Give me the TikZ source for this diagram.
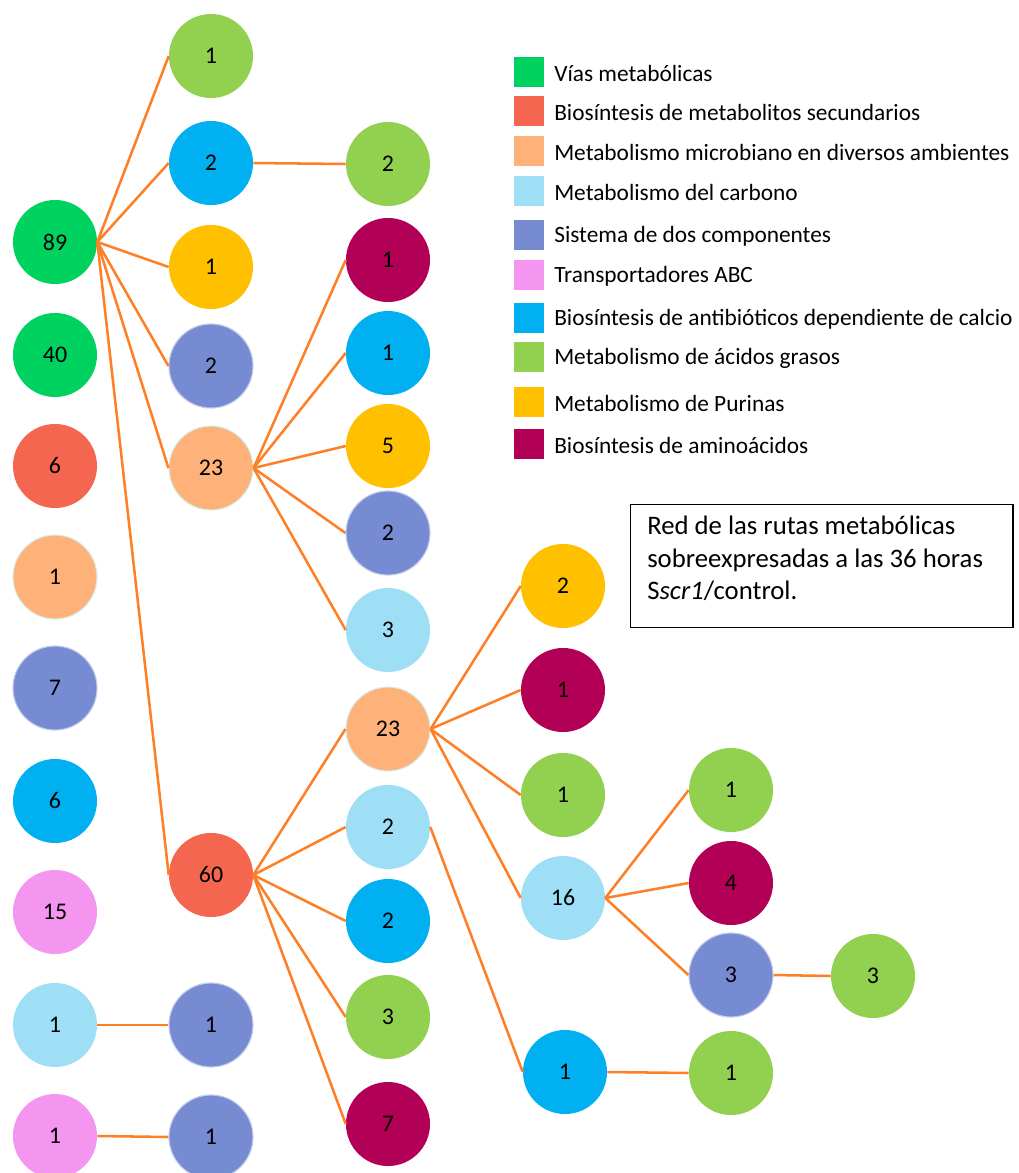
\documentclass[tikz,border=0pt]{standalone}
\usepackage{fontspec}
\setmainfont{Carlito}
\definecolor{vias}{RGB}{0,210,96}
\definecolor{secun}{RGB}{244,102,80}
\definecolor{micro}{RGB}{255,177,122}
\definecolor{carbono}{RGB}{158,223,246}
\definecolor{doscomp}{RGB}{118,139,210}
\definecolor{abc}{RGB}{244,150,240}
\definecolor{antib}{RGB}{0,176,240}
\definecolor{grasos}{RGB}{146,208,80}
\definecolor{purinas}{RGB}{255,192,0}
\definecolor{amino}{RGB}{178,0,86}
\definecolor{linea}{RGB}{255,127,39}
\definecolor{borde}{RGB}{214,238,232}

\begin{document}
\begin{tikzpicture}[x=0.025cm,y=-0.025cm,
  nodo/.style={circle,minimum size=2.1cm,inner sep=0pt,font=\fontsize{17}{20}\selectfont},
  dc/.style={nodo,fill=doscomp,draw=doscomp!45!white,line width=0.8pt},
  mi/.style={nodo,fill=micro,draw=borde,line width=0.8pt},
  arista/.style={draw=linea,line width=1.8pt},
  cuadro/.style={minimum size=0.75cm,inner sep=0pt}]
\useasboundingbox (0,0) rectangle (1019,1173);
% primera columna
\node[nodo,fill=vias](a1) at (55,242){89};
\node[nodo,fill=vias](a2) at (55,355){40};
\node[nodo,fill=secun](a3) at (55,466){6};
\node[mi](a4) at (55,577){1};
\node[dc](a5) at (55,688){7};
\node[nodo,fill=antib](a6) at (55,801){6};
\node[nodo,fill=abc](a7) at (55,912){15};
\node[nodo,fill=carbono](a8) at (55,1025){1};
\node[nodo,fill=abc](a9) at (55,1136){1};
% segunda columna
\node[nodo,fill=grasos](b1) at (211,56){1};
\node[nodo,fill=antib](b2) at (211,163){2};
\node[nodo,fill=purinas](b3) at (211,267){1};
\node[dc](b4) at (211,366){2};
\node[mi](b5) at (211,468){23};
\node[nodo,fill=secun](b6) at (211,875){60};
\node[dc](b7) at (211,1025){1};
\node[dc](b8) at (211,1137){1};
% tercera columna
\node[nodo,fill=grasos](c1) at (388,164){2};
\node[nodo,fill=amino](c2) at (388,260){1};
\node[nodo,fill=antib](c3) at (388,353){1};
\node[nodo,fill=purinas](c4) at (388,446){5};
\node[dc](c5) at (388,533){2};
\node[nodo,fill=carbono](c6) at (388,630){3};
\node[mi](c7) at (388,729){23};
\node[nodo,fill=carbono](c8) at (388,827){2};
\node[nodo,fill=antib](c9) at (388,921){2};
\node[nodo,fill=grasos](c10) at (388,1017){3};
\node[nodo,fill=amino](c11) at (388,1124){7};
% cuarta columna
\node[nodo,fill=purinas](d1) at (563,586){2};
\node[nodo,fill=amino](d2) at (563,690){1};
\node[nodo,fill=grasos](d3) at (563,795){1};
\node[nodo,fill=carbono](d4) at (563,898){16};
\node[nodo,fill=antib](d5) at (565,1072){1};
% quinta y sexta
\node[nodo,fill=grasos](e1) at (731,790){1};
\node[nodo,fill=amino](e2) at (731,883){4};
\node[dc](e3) at (731,975){3};
\node[nodo,fill=grasos](e4) at (731,1073){1};
\node[nodo,fill=grasos](f1) at (873,976){3};
% aristas
\foreach \h in {b1,b2,b3,b4,b5,b6} \draw[arista](a1.east)--(\h.west);
\foreach \h in {c2,c3,c4,c5,c6} \draw[arista](b5.east)--(\h.west);
\foreach \h in {c7,c8,c9,c10,c11} \draw[arista](b6.east)--(\h.west);
\foreach \h in {d1,d2,d3,d4} \draw[arista](c7.east)--(\h.west);
\foreach \h in {e1,e2,e3} \draw[arista](d4.east)--(\h.west);
\draw[arista](b2.east)--(c1.west);
\draw[arista](c8.east)--(d5.west);
\draw[arista](d5.east)--(e4.west);
\draw[arista](e3.east)--(f1.west);
\draw[arista](a8.east)--(b7.west);
\draw[arista](a9.east)--(b8.west);
% leyenda
\foreach \y/\col/\txt [count=\i] in {72/vias/Vías metabólicas,
  111/secun/Biosíntesis de metabolitos secundarios,
  151/micro/Metabolismo microbiano en diversos ambientes,
  191/carbono/Metabolismo del carbono,
  235/doscomp/Sistema de dos componentes,
  275/abc/Transportadores ABC,
  318/antib/Biosíntesis de antibióticos dependiente de calcio,
  357/grasos/Metabolismo de ácidos grasos,
  402/purinas/Metabolismo de Purinas,
  444/amino/Biosíntesis de aminoácidos}{
  \node[cuadro,fill=\col](ley\i) at (529,\y){};
  \node[anchor=west,inner sep=0pt,font=\fontsize{16.6}{19}\selectfont](txt\i) at (554,\y+1){\txt};
}
% recuadro con el titulo
\node[draw,line width=1pt,anchor=north west,minimum width=9.55cm,minimum height=3.075cm]
  (nota) at (630,504){};
\node[anchor=north west,inner sep=0pt,align=left,font=\fontsize{19}{23.1}\selectfont]
  (notatxt) at ([xshift=0.425cm,yshift=-0.3cm]nota.north west)
  {Red de las rutas metabólicas\\sobreexpresadas a las 36 horas\\S\textit{scr1}/control.};
\end{tikzpicture}
\end{document}
